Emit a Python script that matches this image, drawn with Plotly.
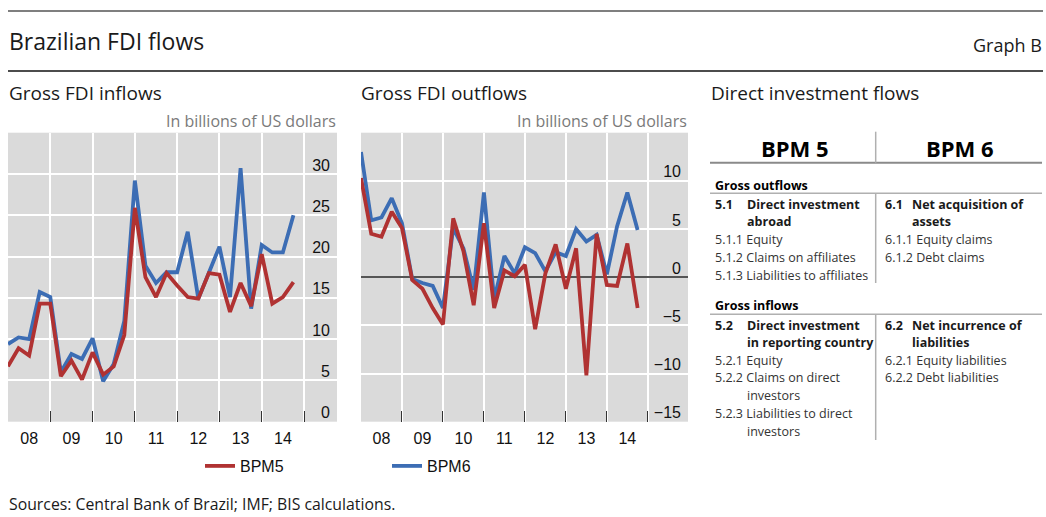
import plotly.graph_objects as go

# ---------------- data ----------------
periods = ["2008Q1", "2008Q2", "2008Q3", "2008Q4", "2009Q1", "2009Q2", "2009Q3", "2009Q4",
           "2010Q1", "2010Q2", "2010Q3", "2010Q4", "2011Q1", "2011Q2", "2011Q3", "2011Q4",
           "2012Q1", "2012Q2", "2012Q3", "2012Q4", "2013Q1", "2013Q2", "2013Q3", "2013Q4",
           "2014Q1", "2014Q2", "2014Q3", "2014Q4"]

inflows_bpm5 = [6.7, 8.9, 8.0, 14.3, 14.3, 5.5, 7.4, 5.1, 8.4, 5.7, 6.7, 10.5, 25.9, 17.5,
                15.1, 18.0, 16.5, 15.1, 14.9, 18.0, 17.8, 13.3, 16.8, 14.0, 20.3, 14.3, 15.1, 16.9]
inflows_bpm6 = [9.4, 10.2, 10.0, 15.7, 15.1, 6.0, 8.2, 7.6, 10.1, 4.9, 7.0, 12.2, 29.2, 18.9,
                16.8, 18.1, 18.1, 23.0, 14.9, 18.1, 21.2, 15.1, 30.7, 13.7, 21.4, 20.5, 20.5, 25.0]

outflows_bpm5 = [10.3, 4.5, 4.2, 6.8, 5.1, -0.3, -1.2, -3.2, -4.9, 6.1, 2.7, -2.9, 5.6, -3.2,
                 0.7, 0.1, 1.3, -5.4, 0.4, 3.4, -1.2, 3.0, -10.2, 4.5, -0.8, -0.9, 3.5, -3.2]
outflows_bpm6 = [13.0, 5.9, 6.2, 8.2, 5.6, -0.2, -0.6, -0.9, -3.2, 5.1, 3.0, -1.3, 8.8, -2.3,
                 2.2, 0.4, 3.1, 2.5, 0.6, 2.6, 2.2, 5.0, 3.7, 4.4, 0.3, 5.3, 8.8, 4.9]

year_labels = ["08", "09", "10", "11", "12", "13", "14"]
years = [2008, 2009, 2010, 2011, 2012, 2013, 2014]
inflow_ticks = [0, 5, 10, 15, 20, 25, 30]
outflow_ticks = [-15, -10, -5, 0, 5, 10]

series_names = ["BPM5", "BPM6"]

table_heads = ["BPM 5", "BPM 6"]
table_sections = ["Gross outflows", "Gross inflows"]
out_left_bold = ["5.1", "Direct investment", "abroad"]
out_left_items = ["5.1.1 Equity", "5.1.2 Claims on affiliates", "5.1.3 Liabilities to affiliates"]
out_right_bold = ["6.1", "Net acquisition of", "assets"]
out_right_items = ["6.1.1 Equity claims", "6.1.2 Debt claims"]
in_left_bold = ["5.2", "Direct investment", "in reporting country"]
in_left_items = ["5.2.1 Equity", "5.2.2 Claims on direct", "investors",
                 "5.2.3 Liabilities to direct", "investors"]
in_right_bold = ["6.2", "Net incurrence of", "liabilities"]
in_right_items = ["6.2.1 Equity liabilities", "6.2.2 Debt liabilities"]

# ---------------- layout helpers ----------------
W, H = 1046, 517
def px(x):
    return x / W
def py(y):
    return 1 - y / H

x_vals = [int(p[:4]) + (int(p[-1]) - 1) / 4 for p in periods]

RED = "#b03232"
BLUE = "#3c6db4"
BG = "#dadada"
NUM_FONT = "Liberation Sans, Arial, sans-serif"
TXT_FONT = "Open Sans, Noto Sans, sans-serif"
LW = 3.8

fig = go.Figure()

fig.add_trace(go.Scatter(x=x_vals, y=inflows_bpm6, mode="lines", line=dict(color=BLUE, width=LW),
                         xaxis="x", yaxis="y", showlegend=False, name=series_names[1]))
fig.add_trace(go.Scatter(x=x_vals, y=inflows_bpm5, mode="lines", line=dict(color=RED, width=LW),
                         xaxis="x", yaxis="y", showlegend=True, legend="legend", name=series_names[0]))
fig.add_trace(go.Scatter(x=x_vals, y=outflows_bpm6, mode="lines", line=dict(color=BLUE, width=LW),
                         xaxis="x2", yaxis="y2", showlegend=True, legend="legend2", name=series_names[1]))
fig.add_trace(go.Scatter(x=x_vals, y=outflows_bpm5, mode="lines", line=dict(color=RED, width=LW),
                         xaxis="x2", yaxis="y2", showlegend=False, name=series_names[0]))

def xaxis_cfg(domain, rng, anchor):
    return dict(
        domain=domain, range=rng, anchor=anchor,
        tickmode="array", tickvals=[y + 0.5 for y in years], ticktext=year_labels,
        ticks="", showgrid=False, zeroline=False, showline=False,
        tickfont=dict(family=NUM_FONT, size=16, color="#111"),
        ticklabelstandoff=5,
        minor=dict(tickmode="array", tickvals=[y + 1 for y in years],
                   ticks="inside", ticklen=11, tickcolor="#333", tickwidth=1,
                   showgrid=True, gridcolor="white", gridwidth=1.5),
        fixedrange=True,
    )

def yaxis_cfg(domain, rng, anchor, ticks, zl):
    return dict(
        domain=domain, range=rng, anchor=anchor, side="right",
        tickmode="array", tickvals=ticks, ticklabelposition="inside",
        ticks="", showgrid=True, gridcolor="white", gridwidth=1.5,
        zeroline=zl, zerolinecolor="#555", zerolinewidth=1.5, showline=False,
        tickfont=dict(family=NUM_FONT, size=16, color="#111"),
        ticklabelshift=-9, ticklabelstandoff=4,
        fixedrange=True,
    )

top, bot = 132.7, 421.7
fig.update_layout(
    width=W, height=H, autosize=False,
    margin=dict(l=0, r=0, t=0, b=0),
    paper_bgcolor="white", plot_bgcolor=BG,
    xaxis=xaxis_cfg([px(8), px(337)], [2008, 2015.78], "y"),
    yaxis=yaxis_cfg([py(bot), py(top)], [0, 35], "x", inflow_ticks, False),
    xaxis2=xaxis_cfg([px(361), px(688)], [2008, 2015.98], "y2"),
    yaxis2=yaxis_cfg([py(bot), py(top)], [-15, 15], "x2", outflow_ticks, True),
    legend=dict(x=px(200), y=py(466), xanchor="left", yanchor="middle",
                bgcolor="rgba(0,0,0,0)", font=dict(family=NUM_FONT, size=16, color="#111"),
                itemclick=False, itemdoubleclick=False),
    legend2=dict(x=px(387), y=py(466), xanchor="left", yanchor="middle",
                 bgcolor="rgba(0,0,0,0)", font=dict(family=NUM_FONT, size=16, color="#111"),
                 itemclick=False, itemdoubleclick=False),
)

shapes = []
def hline(y, x0, x1, color, width):
    shapes.append(dict(type="line", xref="paper", yref="paper", x0=px(x0), x1=px(x1),
                       y0=py(y), y1=py(y), line=dict(color=color, width=width)))
def vline(x, y0, y1, color, width):
    shapes.append(dict(type="line", xref="paper", yref="paper", x0=px(x), x1=px(x),
                       y0=py(y0), y1=py(y1), line=dict(color=color, width=width)))

hline(11, 8, 1043, "#555", 1.5)
hline(71, 8, 1043, "#111", 1.5)
# table rules
hline(162.7, 710, 1042, "#8a8a8a", 2)
hline(193.3, 710, 1042, "#b0b0b0", 1.5)
hline(314.3, 710, 1042, "#b0b0b0", 1.5)
vline(875.7, 131.7, 162.7, "#b0b0b0", 1.5)
vline(875.7, 193.3, 283, "#b0b0b0", 1.5)
vline(875.7, 314.3, 440, "#b0b0b0", 1.5)

annos = []
def txt(text, x, y, size, color="#1a1a1a", anchor="left", family=TXT_FONT, bold=False):
    if bold:
        text = "<b>" + text + "</b>"
    annos.append(dict(text=text, x=px(x), y=py(y), xref="paper", yref="paper",
                      xanchor=anchor, yanchor="middle", showarrow=False,
                      font=dict(family=family, size=size, color=color)))

txt("Brazilian FDI flows", 7, 41.5, 23)
txt("Graph B", 1044, 44.7, 18, anchor="right")
txt("Gross FDI inflows", 7, 93.5, 19)
txt("Gross FDI outflows", 359, 93.5, 19)
txt("Direct investment flows", 709, 93.5, 19)
txt("In billions of US dollars", 338, 121.5, 16, color="#7a7a7a", anchor="right")
txt("In billions of US dollars", 689, 121.5, 16, color="#7a7a7a", anchor="right")
txt("Sources: Central Bank of Brazil; IMF; BIS calculations.", 7, 503.5, 15.8)

# table text
TS = 12.5
txt(table_heads[0], 795, 148, 22, color="#000", anchor="center", bold=True)
txt(table_heads[1], 960, 148, 22, color="#000", anchor="center", bold=True)
txt(table_sections[0], 713, 185, TS, color="#000", bold=True)
txt(table_sections[1], 713, 305.7, TS, color="#000", bold=True)

rows_out = [204.3, 221.7, 240, 257.3, 275]
rows_in = [325, 342.3, 360, 377.7, 395.7, 413.3, 431]
LX0, LX1, RX0, RX1 = 713, 745, 883, 910

txt(out_left_bold[0], LX0, rows_out[0], TS, bold=True)
txt(out_left_bold[1], LX1, rows_out[0], TS, bold=True)
txt(out_left_bold[2], LX1, rows_out[1], TS, bold=True)
for i, t in enumerate(out_left_items):
    txt(t, LX0, rows_out[2 + i], TS, color="#333")
txt(out_right_bold[0], RX0, rows_out[0], TS, bold=True)
txt(out_right_bold[1], RX1, rows_out[0], TS, bold=True)
txt(out_right_bold[2], RX1, rows_out[1], TS, bold=True)
for i, t in enumerate(out_right_items):
    txt(t, RX0, rows_out[2 + i], TS, color="#333")

txt(in_left_bold[0], LX0, rows_in[0], TS, bold=True)
txt(in_left_bold[1], LX1, rows_in[0], TS, bold=True)
txt(in_left_bold[2], LX1, rows_in[1], TS, bold=True)
for i, t in enumerate(in_left_items):
    xx = LX0 if t[0].isdigit() else LX1
    txt(t, xx, rows_in[2 + i], TS, color="#333")
txt(in_right_bold[0], RX0, rows_in[0], TS, bold=True)
txt(in_right_bold[1], RX1, rows_in[0], TS, bold=True)
txt(in_right_bold[2], RX1, rows_in[1], TS, bold=True)
for i, t in enumerate(in_right_items):
    txt(t, RX0, rows_in[2 + i], TS, color="#333")

fig.update_layout(shapes=shapes, annotations=annos)
# remove the default page margin so the 1046x517 figure fills the window exactly
fig.write_html("out.html",
               config={"displayModeBar": False, "staticPlot": False},
               post_script="document.body.style.margin='0';document.body.style.overflow='hidden';")
